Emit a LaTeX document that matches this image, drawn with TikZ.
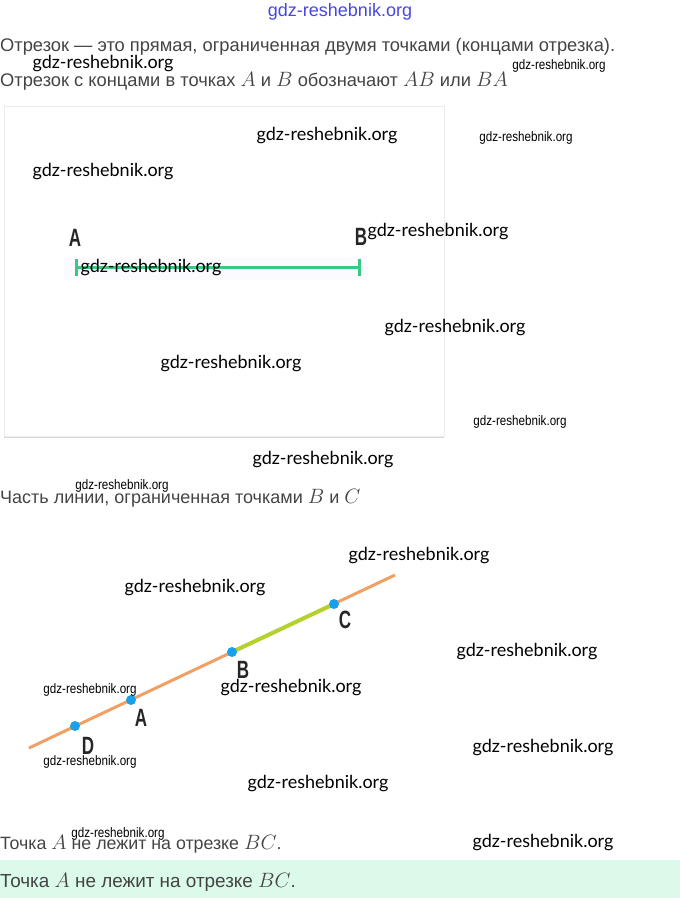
\documentclass[tikz,border=0pt]{standalone}
\usepackage{fontspec}
\setmainfont{Liberation Sans}
\newfontfamily\wmfont{Lato}
\newfontfamily\wmnarrow[FakeStretch=0.85]{Liberation Sans}
\newfontfamily\lblfont[FakeStretch=0.68]{Liberation Sans}
\usetikzlibrary{arrows.meta,shadows}
\definecolor{txtgray}{RGB}{68,68,68}
\definecolor{segmint}{RGB}{60,200,130}
\definecolor{rayorange}{RGB}{240,160,100}
\definecolor{partgreen}{RGB}{180,210,45}
\definecolor{dotblue}{RGB}{25,160,235}
\definecolor{bandmint}{RGB}{220,250,234}
\definecolor{wmblue}{RGB}{70,70,230}
% math letters a little larger than the text round them
\newcommand\mvar[1]{{\fontsize{22}{24}\selectfont$#1$}}
\newcommand\mvarsm[1]{{\fontsize{21.3}{23}\selectfont$#1$}}
\newcommand\mvarbig[1]{{\fontsize{22.8}{25}\selectfont$#1$}}
\tikzset{
  body/.style={anchor=base west,inner sep=0pt,text=txtgray,font=\fontsize{18.3}{21}\selectfont},
  wm/.style={inner sep=0pt,font=\wmfont\fontsize{18}{21}\selectfont},
  wmsmall/.style={inner sep=0pt,font=\wmnarrow\fontsize{13.7}{16}\selectfont},
  lbl/.style={inner sep=0pt,text=black!85,font=\lblfont\bfseries\fontsize{25}{29}\selectfont},
  dot/.style={circle,fill=dotblue,inner sep=0pt,minimum size=10pt},
  card/.style={fill=white,draw=black!7,minimum width=440pt,minimum height=330pt,
    drop shadow={opacity=.3,shadow xshift=0pt,shadow yshift=-2pt}},
}
\begin{document}
\begin{tikzpicture}[x=1pt,y=-1pt]
\useasboundingbox (0,0) rectangle (680,898);

% text above the card
\node[body] (def) at (0,51) {Отрезок — это прямая, ограниченная двумя точками (концами отрезка).};
\node[body] (notation) at (0,86) {Отрезок с концами в точках \mvar{A} и \mvar{B} обозначают \mvar{AB} или \mvar{BA}};

% card with segment AB
\node[card] (card) at (224,271) {};
\fill[blue!2] (64,257) rectangle (367,280);
\node[lbl] (A) at (75,238) {A};
\node[lbl] (B) at (361,237) {B};
\coordinate (endA) at (75,267);
\coordinate (endB) at (361,267);
\draw[segmint,line width=3pt,{Bar[width=17pt]}-{Bar[width=17pt]}] (endA) -- (endB);

\node[body,font=\fontsize{18}{21}\selectfont] (partBC) at (0,503) {Часть линии, ограниченная точками \mvarsm{B} и \mvarsm{C}};

% line with points D, A, B, C
\coordinate (rayS) at (29,748);
\coordinate (rayE) at (395,575);
\coordinate (ptD) at (75,726);
\coordinate (ptA) at (131,700);
\coordinate (ptB) at (232,652);
\coordinate (ptC) at (334,604);
\draw[rayorange,line width=3pt] (rayS) -- (rayE);
\draw[partgreen,line width=4pt] (ptB) -- (ptC);
\node[dot] (dD) at (ptD) {};
\node[dot] (dA) at (ptA) {};
\node[dot] (dB) at (ptB) {};
\node[dot] (dC) at (ptC) {};
\node[lbl] (lD) at (88,746) {D};
\node[lbl] (lA) at (141,718) {A};
\node[lbl] (lB) at (243,670) {B};
\node[lbl] (lC) at (345,620) {C};

\node[body,font=\fontsize{17.8}{21}\selectfont] (notA) at (0,849) {Точка \mvarsm{A} не лежит на отрезке \mvarsm{BC}.};
\fill[bandmint] (0,860) rectangle (680,898);
\node[body,font=\fontsize{18.9}{22}\selectfont] (answer) at (0,887) {Точка \mvarbig{A} не лежит на отрезке \mvarbig{BC}.};

% watermarks
\node[inner sep=0pt,text=wmblue,font=\fontsize{18}{21}\selectfont] (wmtop) at (340,12) {gdz-reshebnik.org};
\foreach \x/\y [count=\i] in {103/64,327/136,103/172,438/232,151/268,455/328,231/364,
    323/460,419/556,195/588,527/652,291/688,543/748,318/784,543/843}
  \node[wm] (wm\i) at (\x,\y) {gdz-reshebnik.org};
\foreach \x/\y [count=\i] in {559/66,526/138,520/422,122/486,90/690,90/762,118/834}
  \node[wmsmall] (wms\i) at (\x,\y) {gdz-reshebnik.org};
\end{tikzpicture}
\end{document}
